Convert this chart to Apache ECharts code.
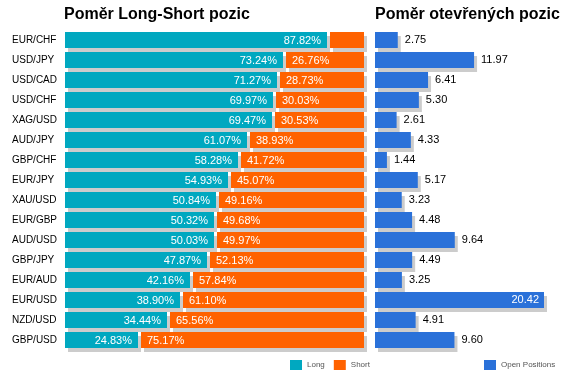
<!DOCTYPE html>
<html><head><meta charset="utf-8">
<script src="https://cdn.jsdelivr.net/npm/echarts@6/dist/echarts.min.js"></script>
<style>html,body{margin:0;padding:0;background:#fff}#c{width:572px;height:380px}</style>
</head><body><div id="c"></div>
<script>
const pairs = ['EUR/CHF','USD/JPY','USD/CAD','USD/CHF','XAG/USD','AUD/JPY','GBP/CHF','EUR/JPY','XAU/USD','EUR/GBP','AUD/USD','GBP/JPY','EUR/AUD','EUR/USD','NZD/USD','GBP/USD'];
const longPct = [87.82,73.24,71.27,69.97,69.47,61.07,58.28,54.93,50.84,50.32,50.03,47.87,42.16,38.90,34.44,24.83];
const shortPct = [12.18,26.76,28.73,30.03,30.53,38.93,41.72,45.07,49.16,49.68,49.97,52.13,57.84,61.10,65.56,75.17];
const openPos = [2.75,11.97,6.41,5.30,2.61,4.33,1.44,5.17,3.23,4.48,9.64,4.49,3.25,20.42,4.91,9.60];

const FONT = '"Liberation Sans", Arial, sans-serif';
const TEAL = '#00A8C0', ORANGE = '#FF6200', BLUE = '#2A71D9', SHADOW = '#CCCCCC';

const chart = echarts.init(document.getElementById('c'));
const lsData = pairs.map((p, i) => [i, longPct[i], shortPct[i]]);

chart.setOption({
  animation: false,
  title: [
    {text: 'Poměr Long-Short pozic', left: 64, top: 7, padding: 0, textStyle: {fontFamily: FONT, fontSize: 16, fontWeight: 'bold', color: '#000'}},
    {text: 'Poměr otevřených pozic', left: 375, top: 7, padding: 0, textStyle: {fontFamily: FONT, fontSize: 16, fontWeight: 'bold', color: '#000'}}
  ],
  legend: [
    {data: ['Long', 'Short'], left: 290, top: 360, padding: 0, itemWidth: 12, itemHeight: 10, itemGap: 9, icon: 'rect',
     textStyle: {fontFamily: FONT, fontSize: 8, color: '#555'}},
    {data: ['Open Positions'], left: 484, top: 360, padding: 0, itemWidth: 12, itemHeight: 10, icon: 'rect',
     textStyle: {fontFamily: FONT, fontSize: 8, color: '#555'}}
  ],
  grid: [
    {left: 65, top: 30, width: 299, height: 320},
    {left: 375, top: 30, width: 169, height: 320}
  ],
  xAxis: [
    {gridIndex: 0, type: 'value', min: 0, max: 100, show: false},
    {gridIndex: 1, type: 'value', min: 0, max: 20.42, show: false}
  ],
  yAxis: [
    {gridIndex: 0, type: 'category', data: pairs, inverse: true,
     axisLine: {show: false}, axisTick: {show: false}, splitLine: {show: false},
     axisLabel: {align: 'left', margin: 53, fontFamily: FONT, fontSize: 10, color: '#000'}},
    {gridIndex: 1, type: 'category', data: pairs, inverse: true, show: false}
  ],
  series: [
    {name: 'Long', type: 'custom', xAxisIndex: 0, yAxisIndex: 0, data: lsData,
     itemStyle: {color: TEAL},
     renderItem: function (params, api) {
       const i = api.value(0), lv = api.value(1), sv = api.value(2);
       const pA = api.coord([0, i]);
       const xm = api.coord([lv, i])[0];
       const x1 = api.coord([lv + sv, i])[0];
       const x0 = pA[0];
       const h = 16, y = pA[1] - h / 2;
       const tEnd = Math.round(xm) - 1, oStart = Math.round(xm) + 2;
       const children = [
         {type: 'rect', shape: {x: x0 + 3, y: y + 4, width: tEnd - x0, height: h}, style: {fill: SHADOW}},
         {type: 'rect', shape: {x: oStart + 3, y: y + 4, width: x1 - oStart, height: h}, style: {fill: SHADOW}},
         {type: 'rect', shape: {x: x0, y: y, width: tEnd - x0, height: h}, style: {fill: TEAL}},
         {type: 'rect', shape: {x: oStart, y: y, width: x1 - oStart, height: h}, style: {fill: ORANGE}},
         {type: 'text', style: {text: lv.toFixed(2) + '%', x: tEnd - 6, y: y + h / 2 + 1, fill: '#fff',
           font: '11px ' + FONT, align: 'right', verticalAlign: 'middle'}}
       ];
       if (x1 - oStart > 45) {
         children.push({type: 'text', style: {text: sv.toFixed(2) + '%', x: oStart + 6, y: y + h / 2 + 1, fill: '#fff',
           font: '11px ' + FONT, align: 'left', verticalAlign: 'middle'}});
       }
       return {type: 'group', children: children};
     }},
    {name: 'Short', type: 'bar', xAxisIndex: 0, yAxisIndex: 0, data: [], itemStyle: {color: ORANGE}},
    {name: 'Open Positions', type: 'bar', xAxisIndex: 1, yAxisIndex: 1, barWidth: 16,
     data: openPos.map(v => v === Math.max(...openPos)
       ? {value: v, label: {position: 'insideRight', distance: 5, color: '#fff'}}
       : v),
     itemStyle: {color: BLUE, shadowColor: SHADOW, shadowBlur: 0, shadowOffsetX: 3, shadowOffsetY: 4},
     label: {show: true, position: 'right', distance: 7, color: '#000', fontFamily: FONT, fontSize: 11,
       formatter: p => p.value.toFixed(2)}}
  ]
});
</script></body></html>
